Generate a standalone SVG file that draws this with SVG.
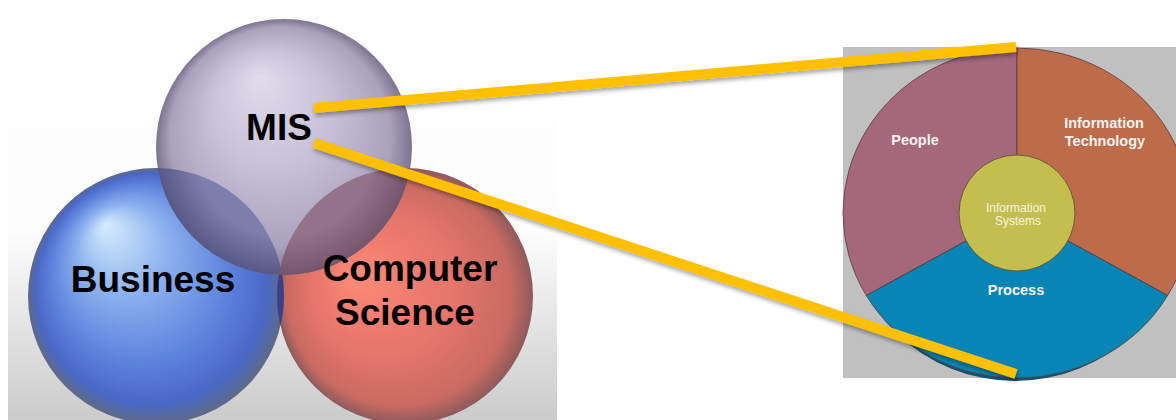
<svg xmlns="http://www.w3.org/2000/svg" width="1176" height="420" viewBox="0 0 1176 420">
<defs>
<style>
.big{font-family:"Liberation Sans",Arial,sans-serif;font-weight:bold;font-size:37px;fill:#000}
.lbl{font-family:"Liberation Sans",Arial,sans-serif;font-weight:bold;font-size:14.5px;fill:#f6f2f2}
.inner{font-family:"Liberation Sans",Arial,sans-serif;font-size:12px;fill:#f6f4e4}
.conn{stroke:#FFC000;stroke-width:10;fill:none;stroke-linecap:butt}
.sec{stroke:#5a3c3c;stroke-width:0.8}
</style>
<linearGradient id="bg" x1="0" y1="0" x2="0" y2="1">
<stop offset="0" stop-color="#ffffff"/>
<stop offset="0.55" stop-color="#fdfdfd"/>
<stop offset="1" stop-color="#cbcbcb"/>
</linearGradient>
<radialGradient id="gB" cx="0.5" cy="0.5" r="0.5" fx="0.3" fy="0.22">
<stop offset="0" stop-color="#d6ecfd"/>
<stop offset="0.35" stop-color="#8cb2ef"/>
<stop offset="0.7" stop-color="#5b82dc"/>
<stop offset="0.9" stop-color="#4a68c6"/>
<stop offset="1" stop-color="#5e6a88"/>
</radialGradient>
<radialGradient id="gC" cx="0.5" cy="0.5" r="0.5" fx="0.3" fy="0.42">
<stop offset="0" stop-color="#fb8a78"/>
<stop offset="0.55" stop-color="#e6756a"/>
<stop offset="0.88" stop-color="#c86a62"/>
<stop offset="1" stop-color="#8e5a5c"/>
</radialGradient>
<radialGradient id="gM" cx="0.5" cy="0.5" r="0.5" fx="0.4" fy="0.22">
<stop offset="0" stop-color="#e2dcee"/>
<stop offset="0.5" stop-color="#c6bed6"/>
<stop offset="0.86" stop-color="#aaa2bc"/>
<stop offset="1" stop-color="#7c7490"/>
</radialGradient>
<radialGradient id="oB" cx="0.5" cy="0.5" r="0.5">
<stop offset="0.7" stop-color="#7e7eac"/>
<stop offset="1" stop-color="#585888"/>
</radialGradient>
<radialGradient id="oC" cx="0.5" cy="0.5" r="0.5">
<stop offset="0.7" stop-color="#94728a"/>
<stop offset="1" stop-color="#74566c"/>
</radialGradient>
<clipPath id="clipB"><circle cx="156" cy="296" r="128"/></clipPath>
<clipPath id="clipC"><circle cx="405" cy="296" r="128"/></clipPath>
<filter id="sh" x="-5%" y="-20%" width="110%" height="140%">
<feGaussianBlur in="SourceAlpha" stdDeviation="2"/>
<feOffset dx="1" dy="3" result="b"/>
<feComponentTransfer><feFuncA type="linear" slope="0.35"/></feComponentTransfer>
<feMerge><feMergeNode/><feMergeNode in="SourceGraphic"/></feMerge>
</filter>
</defs>
<rect width="1176" height="420" fill="#ffffff"/>
<rect x="8" y="0" width="549" height="420" fill="url(#bg)"/>

<g id="business">
<circle cx="156" cy="296" r="128" fill="url(#gB)"/>
</g>
<g id="computer-science">
<circle cx="405" cy="296" r="128" fill="url(#gC)"/>
<circle cx="405" cy="296" r="128" fill="#3a3f88" clip-path="url(#clipB)"/>
</g>
<g id="mis">
<circle cx="284" cy="147" r="128" fill="url(#gM)"/>
<circle cx="284" cy="147" r="128" fill="url(#oB)" clip-path="url(#clipB)"/>
<circle cx="284" cy="147" r="128" fill="url(#oC)" clip-path="url(#clipC)"/>
</g>
<text class="big" x="279" y="140" text-anchor="middle">MIS</text>
<text class="big" x="153" y="292" text-anchor="middle">Business</text>
<text class="big" x="410" y="281" text-anchor="middle">Computer</text>
<text class="big" x="405" y="325" text-anchor="middle">Science</text>

<g id="is-pie">
<rect x="843" y="47" width="333" height="331" fill="#c0c0c0"/>
<ellipse cx="1015" cy="216" rx="168" ry="165" fill="#17506e"/>
<path class="sec" d="M1017 213 L1017 48 A174 165 0 0 0 866.3 295.5 Z" fill="#a4687a"/>
<path class="sec" d="M1017 213 L1017 48 A174 165 0 0 1 1167.7 295.5 Z" fill="#be6b4a"/>
<path class="sec" d="M1017 213 L866.3 295.5 A174 165 0 0 0 1167.7 295.5 Z" fill="#0785b5"/>
<circle cx="1017" cy="213" r="58" fill="#c4be4e" stroke="#4a4a3a" stroke-width="0.8"/>
<text class="lbl" x="915" y="145" text-anchor="middle">People</text>
<text class="lbl" x="1104" y="128" text-anchor="middle">Information</text>
<text class="lbl" x="1105" y="146" text-anchor="middle">Technology</text>
<text class="lbl" x="1016" y="295" text-anchor="middle">Process</text>
<text class="inner" x="1016" y="212" text-anchor="middle">Information</text>
<text class="inner" x="1018" y="225" text-anchor="middle">Systems</text>
</g>

<g id="connectors" filter="url(#sh)">
<line class="conn" x1="314" y1="108" x2="1016" y2="47"/>
<line class="conn" x1="314" y1="143" x2="1016" y2="374"/>
</g>
</svg>
